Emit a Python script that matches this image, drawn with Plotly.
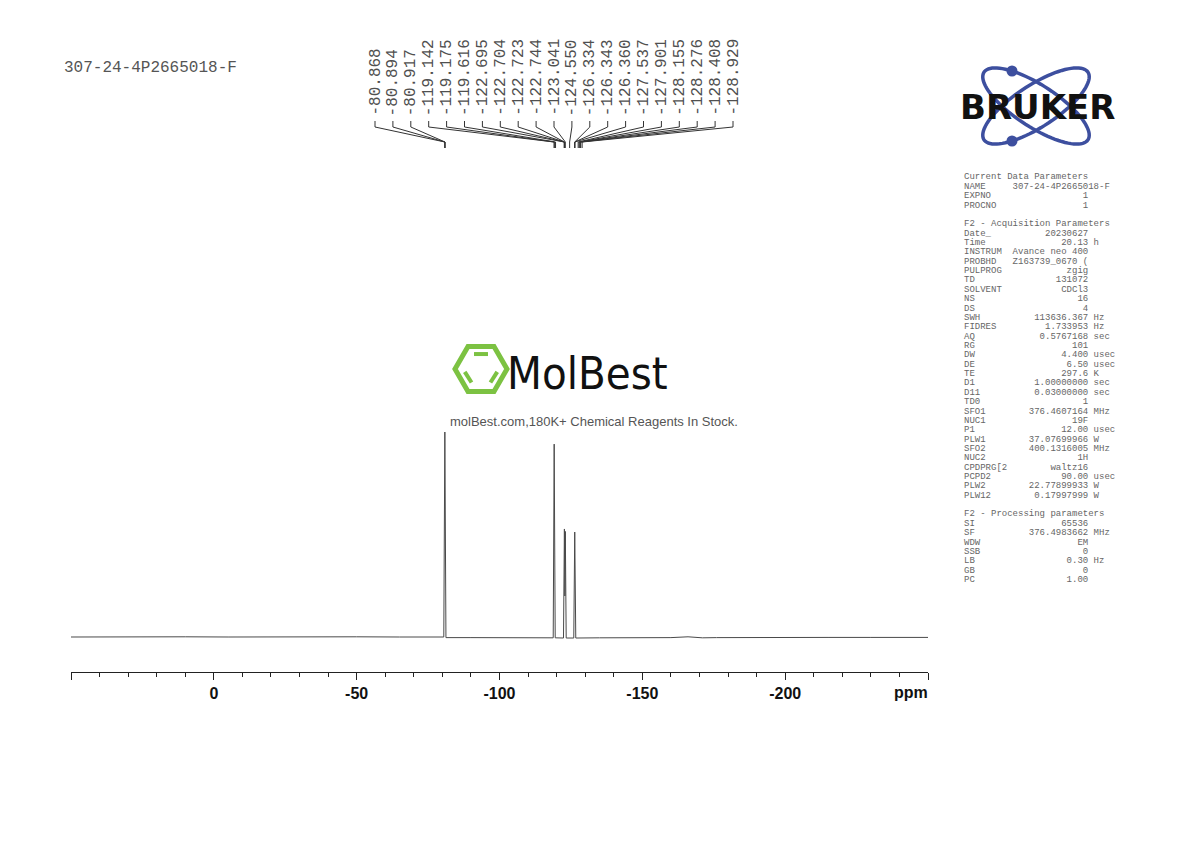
import numpy as np
import plotly.graph_objects as go

W, H = 1190, 842

# ---------------- data ----------------
sample_name = "307-24-4P2665018-F"

# 19F spectrum: chemical shift (ppm) and relative intensity
spec_ppm = [50.0, 40.0, 25.0, 10.0, -5.0, -20.0, -35.0, -50.0, -65.0, -80.5,
            -80.87, -81.25, -90.0, -105.0, -118.8, -119.14, -119.5, -122.4,
            -122.72, -122.88, -123.04, -123.35, -126.0, -126.34, -126.7,
            -135.0, -150.0, -160.0, -166.0, -171.0, -176.0, -185.0, -200.0,
            -215.0, -230.0, -240.0, -250.0]
spec_int = [0.0, 0.1, 0.0, 0.1, 0.0, 0.1, 0.0, 0.1, 0.0, 0.0,
            100.0, -0.3, -0.3, -0.4, -0.4, 94.1, -0.4, -0.5,
            52.7, 20.0, 51.5, -0.5, -0.5, 51.2, -0.5,
            -0.4, -0.4, -0.3, 0.1, -0.4, -0.3, -0.2, -0.3,
            -0.2, -0.2, -0.1, -0.2]

# picked peaks (ppm)
peak_list = [-80.868, -80.894, -80.917, -119.142, -119.175, -119.616,
             -122.695, -122.704, -122.723, -122.744, -123.041, -124.550,
             -126.334, -126.343, -126.360, -127.537, -127.901, -128.155,
             -128.276, -128.408, -128.929]

# axis ticks
major_ticks = [50, 0, -50, -100, -150, -200, -250]
major_text = ["", "0", "-50", "-100", "-150", "-200", ""]
axis_unit = "ppm"

# acquisition / processing parameter listing
sec1_title = "Current Data Parameters"
sec1_names = ["NAME", "EXPNO", "PROCNO"]
sec1_values = [sample_name, "1", "1"]
sec1_units = ["", "", ""]

sec2_title = "F2 - Acquisition Parameters"
sec2_names = ["Date_", "Time", "INSTRUM", "PROBHD", "PULPROG", "TD", "SOLVENT",
              "NS", "DS", "SWH", "FIDRES", "AQ", "RG", "DW", "DE", "TE", "D1",
              "D11", "TD0", "SFO1", "NUC1", "P1", "PLW1", "SFO2", "NUC2",
              "CPDPRG[2", "PCPD2", "PLW2", "PLW12"]
sec2_values = ["20230627", "20.13", "Avance neo 400", "Z163739_0670 (", "zgig",
               "131072", "CDCl3", "16", "4", "113636.367", "1.733953",
               "0.5767168", "101", "4.400", "6.50", "297.6", "1.00000000",
               "0.03000000", "1", "376.4607164", "19F", "12.00", "37.07699966",
               "400.1316005", "1H", "waltz16", "90.00", "22.77899933",
               "0.17997999"]
sec2_units = ["", "h", "", "", "", "", "", "", "", "Hz", "Hz", "sec", "",
              "usec", "usec", "K", "sec", "sec", "", "MHz", "", "usec", "W",
              "MHz", "", "", "usec", "W", "W"]

sec3_title = "F2 - Processing parameters"
sec3_names = ["SI", "SF", "WDW", "SSB", "LB", "GB", "PC"]
sec3_values = ["65536", "376.4983662", "EM", "0", "0.30", "0", "1.00"]
sec3_units = ["", "MHz", "", "", "Hz", "", ""]

watermark_name = "MolBest"
watermark_sub = "molBest.com,180K+ Chemical Reagents In Stock."
vendor_name = "BRUKER"

# ---------------- layout geometry (pixels) ----------------
X0_PX, X1_PX = 71, 928          # ppm axis extent
PPM_L, PPM_R = 50.0, -250.0
AXIS_PX = 672                   # axis line
BASE_PX = 637                   # spectrum baseline
FULL_PX = 432                   # intensity 100
TOP_PX = 405


def px(x):
    return x / W


def py(y):
    return 1 - y / H


def ppm_at(xpix):
    return PPM_L + (xpix - X0_PX) / (X1_PX - X0_PX) * (PPM_R - PPM_L)


unit_px = (BASE_PX - FULL_PX) / 100.0
y_lo = -(AXIS_PX - BASE_PX) / unit_px
y_hi = (BASE_PX - TOP_PX) / unit_px

MONO = "Liberation Mono, Courier New, Courier, monospace"
SANS = "Liberation Sans, Arial, Helvetica, sans-serif"

fig = go.Figure()

fig.add_trace(go.Scatter(
    x=spec_ppm, y=spec_int, mode="lines",
    line=dict(color="#4a4a4a", width=1),
    hoverinfo="skip", showlegend=False,
))

annotations = []
shapes = []

# peak labels with connector brackets
lab_x0, lab_dx = 375.0, 17.9
for i, p in enumerate(peak_list):
    lx = ppm_at(lab_x0 + i * lab_dx)
    annotations.append(dict(
        x=lx, y=py(118), xref="x", yref="paper",
        text=f"{p:.3f}", textangle=-90, showarrow=False,
        xanchor="center", yanchor="bottom",
        font=dict(family=MONO, size=16, color="#505050"),
    ))
    shapes.append(dict(
        type="path", xref="x", yref="paper",
        path=f"M{lx},{py(121)} L{lx},{py(127)} L{p},{py(142)} L{p},{py(148)}",
        line=dict(color="#333333", width=1),
    ))

# sample title
annotations.append(dict(
    x=px(62), y=py(68), xref="paper", yref="paper", text=sample_name,
    showarrow=False, xanchor="left", yanchor="middle",
    font=dict(family=MONO, size=16, color="#555555"),
))

# axis unit
annotations.append(dict(
    x=px(930), y=py(692), xref="paper", yref="paper", text=axis_unit,
    showarrow=False, xanchor="right", yanchor="middle",
    font=dict(family=SANS, size=16, color="#111111", weight="bold"),
))


# parameter listing
def fmt_line(name, value, unit):
    s = f"{name:<9}{value:>14}"
    if unit:
        s += " " + unit
    return s


lines = [sec1_title]
lines += [fmt_line(n, v, u) for n, v, u in zip(sec1_names, sec1_values, sec1_units)]
lines += [""]
lines += [sec2_title]
lines += [fmt_line(n, v, u) for n, v, u in zip(sec2_names, sec2_values, sec2_units)]
lines += [""]
lines += [sec3_title]
lines += [fmt_line(n, v, u) for n, v, u in zip(sec3_names, sec3_values, sec3_units)]

for k, s in enumerate(lines):
    if not s:
        continue
    annotations.append(dict(
        x=px(962), y=py(177.5 + k * 9.36), xref="paper", yref="paper",
        text=s.replace(" ", "\u00a0"), showarrow=False,
        xanchor="left", yanchor="middle",
        font=dict(family=MONO, size=9, color="#666666"),
    ))

# MolBest watermark: hexagon ring
hx, hy, hr = 481.0, 369.0, 26.0
ang = np.deg2rad(np.arange(0, 361, 60))
hex_path = "M" + " L".join(f"{px(hx + hr*np.cos(a))},{py(hy + hr*np.sin(a))}" for a in ang) + " Z"
shapes.append(dict(type="path", xref="paper", yref="paper", path=hex_path,
                   line=dict(color="#7cc242", width=5)))
ri = 16.5
for a0, a1 in [(245, 295), (125, 170), (10, 55)]:
    a0r, a1r = np.deg2rad(a0), np.deg2rad(a1)
    shapes.append(dict(
        type="line", xref="paper", yref="paper",
        x0=px(hx + ri*np.cos(a0r)), y0=py(hy + ri*np.sin(a0r)),
        x1=px(hx + ri*np.cos(a1r)), y1=py(hy + ri*np.sin(a1r)),
        line=dict(color="#7cc242", width=4),
    ))
annotations.append(dict(
    x=px(587), y=py(373), xref="paper", yref="paper", text=watermark_name,
    showarrow=False, xanchor="center", yanchor="middle",
    font=dict(family="Liberation Sans Narrow, DejaVu Sans Condensed, Arial Narrow, sans-serif",
              size=45, color="#111111"),
))
annotations.append(dict(
    x=px(594), y=py(421), xref="paper", yref="paper", text=watermark_sub,
    showarrow=False, xanchor="center", yanchor="middle",
    font=dict(family=SANS, size=13, color="#555555"),
))

# BRUKER logo: two crossing orbits with electrons
ocx, ocy, oa, ob = 1036.0, 106.0, 62.0, 21.0
t = np.linspace(0, 2*np.pi, 90)
for th in (np.deg2rad(33), np.deg2rad(-33)):
    ex = ocx + oa*np.cos(t)*np.cos(th) - ob*np.sin(t)*np.sin(th)
    ey = ocy + oa*np.cos(t)*np.sin(th) + ob*np.sin(t)*np.cos(th)
    pth = "M" + " L".join(f"{px(a)},{py(b)}" for a, b in zip(ex, ey)) + " Z"
    shapes.append(dict(type="path", xref="paper", yref="paper", path=pth,
                       line=dict(color="#3d4f9f", width=3.5)))
for dx_, dy_ in [(1012, 71), (1012, 141)]:
    shapes.append(dict(type="circle", xref="paper", yref="paper",
                       x0=px(dx_-5.5), x1=px(dx_+5.5), y0=py(dy_-5.5), y1=py(dy_+5.5),
                       fillcolor="#3d4f9f", line=dict(width=0)))
annotations.append(dict(
    x=px(1037), y=py(107), xref="paper", yref="paper", text=vendor_name,
    showarrow=False, xanchor="center", yanchor="middle",
    font=dict(family="DejaVu Sans, Arial Black, sans-serif", size=34,
              color="#111111", weight="bold"),
))

fig.update_layout(
    width=W, height=H,
    margin=dict(l=0, r=0, t=0, b=0),
    paper_bgcolor="white", plot_bgcolor="white",
    showlegend=False,
    xaxis=dict(
        domain=[px(X0_PX), px(X1_PX)],
        range=[PPM_L, PPM_R],
        showgrid=False, zeroline=False,
        showline=True, linecolor="#222222", linewidth=1,
        ticks="outside", ticklen=7, tickwidth=1, tickcolor="#222222",
        tickvals=major_ticks, ticktext=major_text,
        tickfont=dict(family=SANS, size=16, color="#111111", weight="bold"),
        minor=dict(dtick=10, tick0=0, ticks="outside", ticklen=4,
                   tickcolor="#222222", tickwidth=1, showgrid=False),
        anchor="y",
    ),
    yaxis=dict(
        domain=[py(AXIS_PX), py(TOP_PX)],
        range=[y_lo, y_hi],
        visible=False, showgrid=False, zeroline=False,
    ),
    annotations=annotations,
    shapes=shapes,
)

fig.write_html("out.html")
